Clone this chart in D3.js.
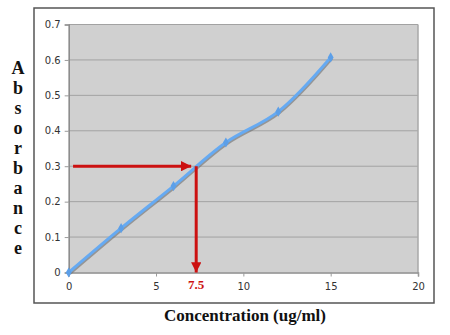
<!DOCTYPE html>
<html><head><meta charset="utf-8">
<script src="https://cdn.jsdelivr.net/npm/d3@7"></script>
<style>body{margin:0;background:#fff}svg{display:block}</style>
</head><body>
<svg id="c" width="450" height="335"></svg>
<script>
const concentration = [0, 3, 6, 9, 12, 15];
const absorbance = [0, 0.125, 0.244, 0.367, 0.454, 0.607];
const xTicks = [0, 5, 10, 15, 20];
const yTicks = [0, 0.1, 0.2, 0.3, 0.4, 0.5, 0.6, 0.7];
const readAbs = [0.3];
const readConc = [7.3];
const readLabel = ["7.5"];
const yTitle = "Absorbance";
const xTitle = "Concentration (ug/ml)";

const svg = d3.select("#c");
const L = 68.7, R = 418, T = 24.5, B = 272.5;
const x = d3.scaleLinear().domain([0, 20]).range([L, R]);
const y = d3.scaleLinear().domain([0, 0.7]).range([B, T]);

// outer frame
svg.append("rect").attr("x", 34).attr("y", 8).attr("width", 400).attr("height", 295)
  .attr("fill", "#fff").attr("stroke", "#555").attr("stroke-width", 1.5);

// plot area
svg.append("rect").attr("x", L).attr("y", T).attr("width", R - L).attr("height", B - T)
  .attr("fill", "#d0d0d0");

// grid
svg.append("g").selectAll("line").data(yTicks.slice(1)).join("line")
  .attr("x1", L).attr("x2", R).attr("y1", d => y(d)).attr("y2", d => y(d))
  .attr("stroke", "#a2a2a2").attr("stroke-width", 1);
svg.append("line").attr("x1", R).attr("x2", R).attr("y1", T).attr("y2", B)
  .attr("stroke", "#a8a8a8").attr("stroke-width", 1.5);

// axes
const yAxis = d3.axisLeft(y).tickValues(yTicks).tickSize(4).tickPadding(4)
  .tickFormat(d => d === 0 ? "0" : d3.format(".1f")(d));
const gy = svg.append("g").attr("transform", `translate(${L},0)`).call(yAxis);
const xAxis = d3.axisBottom(x).tickValues(xTicks).tickSize(4).tickPadding(6).tickFormat(d3.format("d"));
const gx = svg.append("g").attr("transform", `translate(0,${B})`).call(xAxis);
[gx, gy].forEach(g => {
  g.select(".domain").attr("stroke", "#8a8a8a").attr("stroke-width", 1.5);
  g.selectAll(".tick line").attr("stroke", "#9a9a9a");
  g.selectAll(".tick text").attr("fill", "#333").attr("font-family", "DejaVu Sans, Verdana, sans-serif").attr("font-size", 10);
});

// data line (smoothed) with shadow
const pts = concentration.map((c, i) => [c, absorbance[i]]);
const line = d3.line().x(d => x(d[0])).y(d => y(d[1])).curve(d3.curveCatmullRom.alpha(0.5));
svg.append("path").attr("d", line(pts)).attr("fill", "none")
  .attr("stroke", "#6e6e6e").attr("stroke-width", 3).attr("transform", "translate(1,1.2)")
  .attr("stroke-opacity", 0.6);
svg.append("path").attr("d", line(pts)).attr("fill", "none")
  .attr("stroke", "#66aaf2").attr("stroke-width", 3).attr("stroke-linecap", "round");
svg.append("g").selectAll("path").data(pts).join("path")
  .attr("d", d3.symbol(d3.symbolDiamond, 30)())
  .attr("transform", d => `translate(${x(d[0])},${y(d[1])})`)
  .attr("fill", "#5c9fe8");

// red reading arrows
const red = "#cc1111";
const defs = svg.append("defs");
defs.append("marker").attr("id", "ah").attr("viewBox", "0 0 10 10").attr("refX", 10).attr("refY", 5)
  .attr("markerWidth", 3.4).attr("markerHeight", 3.4).attr("markerUnits", "strokeWidth").attr("orient", "auto")
  .append("path").attr("d", "M0,0 L10,5 L0,10 Z").attr("fill", red);
readAbs.forEach((a, i) => {
  const cx = x(readConc[i]);
  svg.append("line").attr("x1", x(0.25)).attr("x2", cx - 5).attr("y1", y(a)).attr("y2", y(a))
    .attr("stroke", red).attr("stroke-width", 3).attr("marker-end", "url(#ah)");
  svg.append("line").attr("x1", cx).attr("x2", cx).attr("y1", y(a)).attr("y2", y(0))
    .attr("stroke", red).attr("stroke-width", 3).attr("marker-end", "url(#ah)");
  svg.append("text").attr("x", cx).attr("y", B + 16).attr("text-anchor", "middle")
    .attr("fill", red).attr("font-family", "Liberation Serif, Times New Roman, serif")
    .attr("font-weight", "bold").attr("font-size", 13).text(readLabel[i]);
});

// y title: stacked letters
const yt = svg.append("text").attr("font-family", "Liberation Serif, Times New Roman, serif")
  .attr("font-weight", "bold").attr("font-size", 18).attr("fill", "#111").attr("text-anchor", "middle");
yTitle.split("").forEach((ch, i) => {
  yt.append("tspan").attr("x", 18).attr("y", 74 + i * 20).text(ch);
});

// x title
svg.append("text").attr("x", 245).attr("y", 321).attr("text-anchor", "middle")
  .attr("font-family", "Liberation Serif, Times New Roman, serif").attr("font-weight", "bold")
  .attr("font-size", 17).attr("fill", "#111").text(xTitle);
</script>
</body></html>
